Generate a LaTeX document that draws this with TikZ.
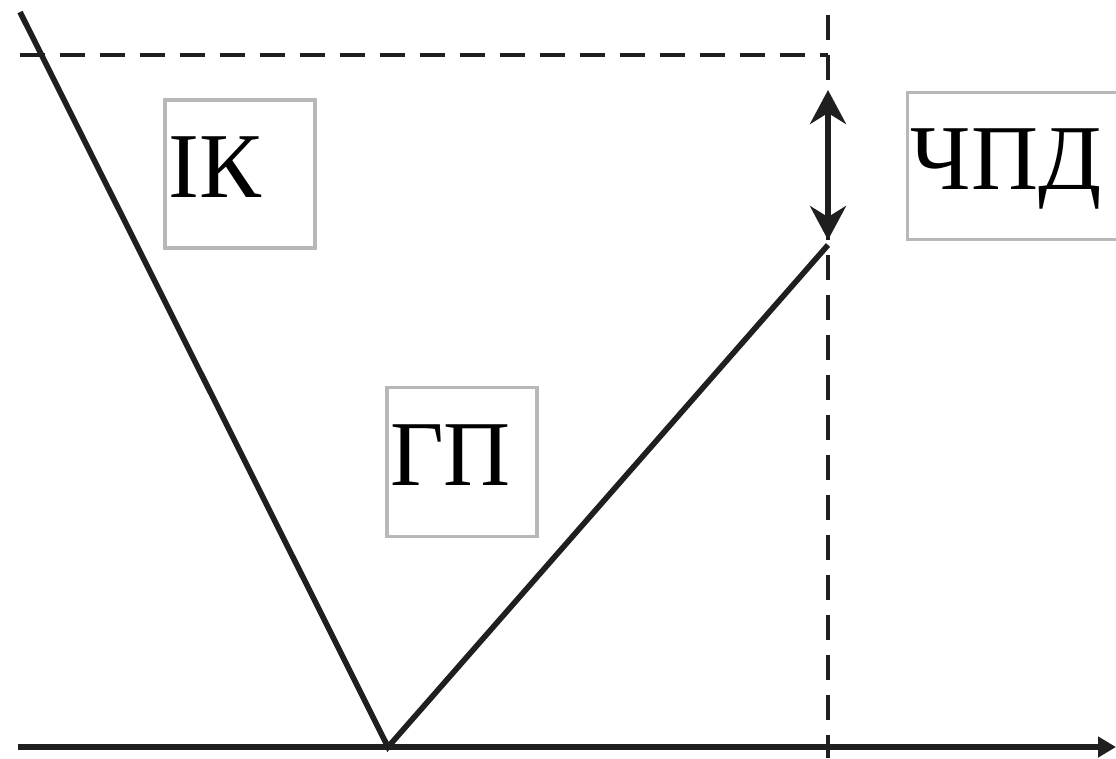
\documentclass[tikz,border=0pt]{standalone}
\usepackage{fontspec}
\setmainfont{Liberation Serif}
\usetikzlibrary{arrows.meta}

\begin{document}
\begin{tikzpicture}[x=0.025cm,y=-0.025cm,
                        thick line/.style={line width=0.14cm, draw=black!88},
                        guide/.style={line width=0.1cm, draw=black!88, dash pattern=on 0.62cm off 0.38cm},
                        labelbox/.style={draw=black!28, line width=0.08cm, inner xsep=0.08cm, inner ysep=0pt,
                            align=left, text depth=0.35cm, font=\fontsize{66}{70}\selectfont}]
                        \useasboundingbox (0,0) rectangle (1116,758);
                        % points of the diagram
                        \coordinate (top) at (20,12);
                        \coordinate (vertex) at (388,747);
                        \coordinate (kink) at (828,245);
                        \coordinate (axisstart) at (18,747);
                        \coordinate (axisend) at (1116,747);
                        \coordinate (dashleft) at (20,55);
                        \coordinate (corner) at (828,55);
                        \coordinate (dashtop) at (828,15);
                        \coordinate (dashbottom) at (828,758);
                        \coordinate (gaptop) at (828,90);
                        \coordinate (gapbottom) at (828,240);
                        % dashed guides
                        \draw [guide] (dashleft) -- (corner);
                        \draw [guide] (dashtop) -- (dashbottom);
                        % axis and curve
                        \draw [thick line, -{Triangle[length=0.45cm,width=0.5cm]}] (axisstart) -- (axisend);
                        \draw [thick line, line join=miter] (top) -- (vertex) -- (kink);
                        \draw [thick line, {Stealth[length=0.85cm,width=0.9cm]}-{Stealth[length=0.85cm,width=0.9cm]}] (gaptop) -- (gapbottom);
                        % labels
                        \node [labelbox, text width=3.59cm, minimum height=3.7cm] (ik) at (240,174) {ІК};
                        \node [labelbox, text width=3.59cm, minimum height=3.72cm] (gp) at (462,462) {ГП};
                        \node [labelbox, text width=5.2cm, minimum height=3.68cm, anchor=west] (chpd) at (906,166) {ЧПД};
                    \end{tikzpicture}
\end{document}
